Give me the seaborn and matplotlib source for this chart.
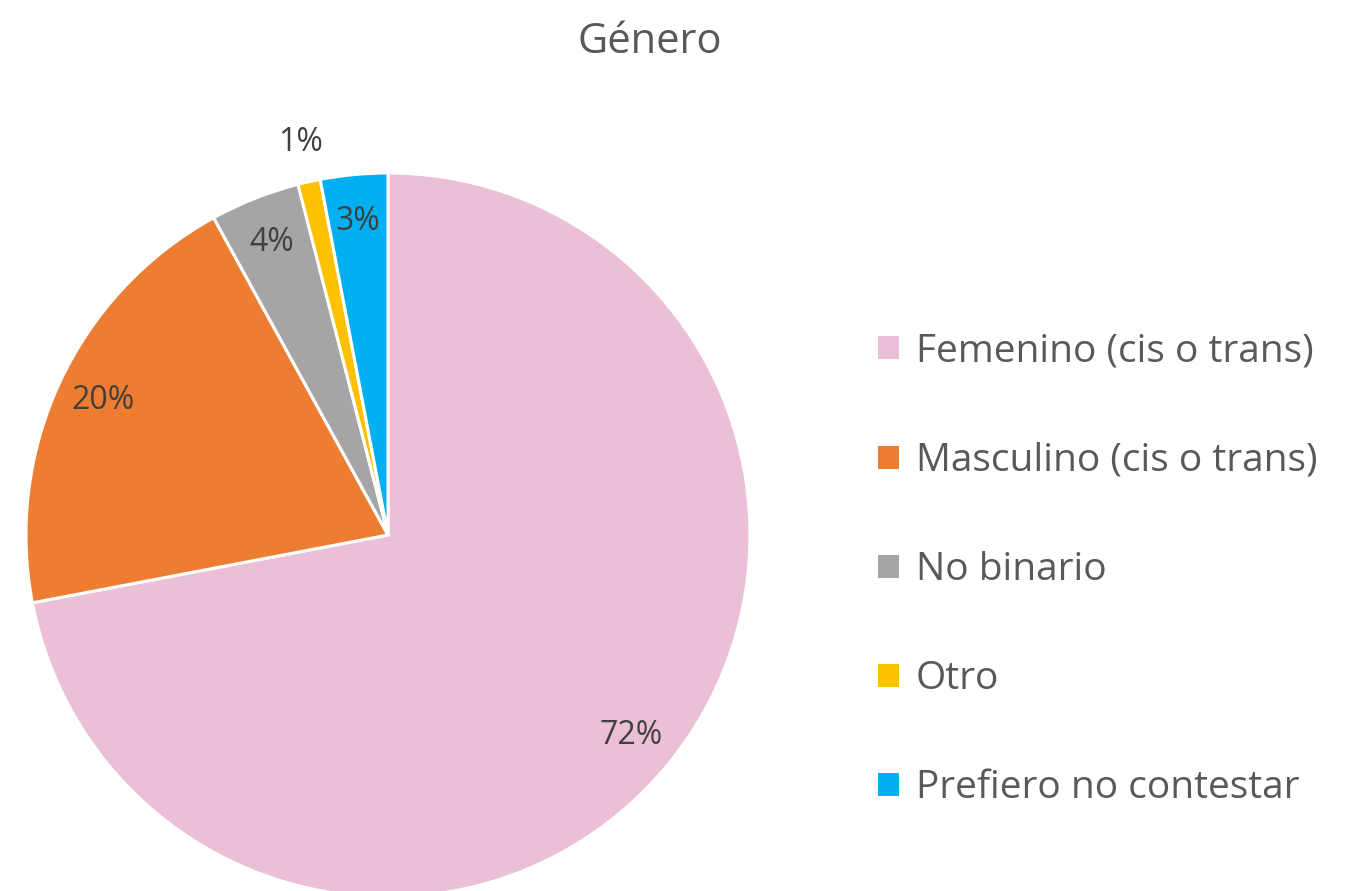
import matplotlib
matplotlib.use("Agg")
import matplotlib.pyplot as plt
import seaborn as sns
import numpy as np
from matplotlib.patches import Patch

categories = ["Femenino (cis o trans)", "Masculino (cis o trans)", "No binario", "Otro", "Prefiero no contestar"]
values = [72, 20, 4, 1, 3]
colors = ["#EBC0D6", "#ED7D31", "#A5A5A5", "#FFC000", "#00B0F0"]
title = "Género"

sns.set_theme(style="white")
plt.rcParams['font.family'] = ['Open Sans', 'DejaVu Sans']

W, H = 1345, 891
fig = plt.figure(figsize=(W / 100, H / 100), dpi=100)
cx, cy, R = 388, 535, 362
ax = fig.add_axes([(cx - R) / W, (H - cy - R) / H, 2 * R / W, 2 * R / H])

wedges, texts, autotexts = ax.pie(
    values, colors=colors, startangle=90, counterclock=False,
    autopct=lambda p: f"{p:.0f}%", pctdistance=0.87,
    wedgeprops=dict(edgecolor="white", linewidth=2.2),
    textprops=dict(color="#404040", fontsize=23),
)
ax.set_xlim(-1, 1)
ax.set_ylim(-1, 1)
ax.set_aspect("equal")

# move the small "Otro" label outside the pie
w = wedges[3]
mid = np.deg2rad((w.theta1 + w.theta2) / 2)
autotexts[3].set_position((1.11 * np.cos(mid), 1.11 * np.sin(mid)))

fig.text(650 / W, 1 - 42 / H, title, ha="center", va="center",
         fontsize=30, color="#595959")

handles = [Patch(facecolor=c, edgecolor="none") for c in colors]
fig.legend(handles, categories, loc="center left",
           bbox_to_anchor=(878 / W, 1 - 570 / H), frameon=False,
           fontsize=28, labelcolor="#595959", handlelength=0.53, handleheight=0.53,
           handletextpad=0.45, labelspacing=1.83, borderpad=0, borderaxespad=0)

fig.savefig("out.png", dpi=100, facecolor="white")
